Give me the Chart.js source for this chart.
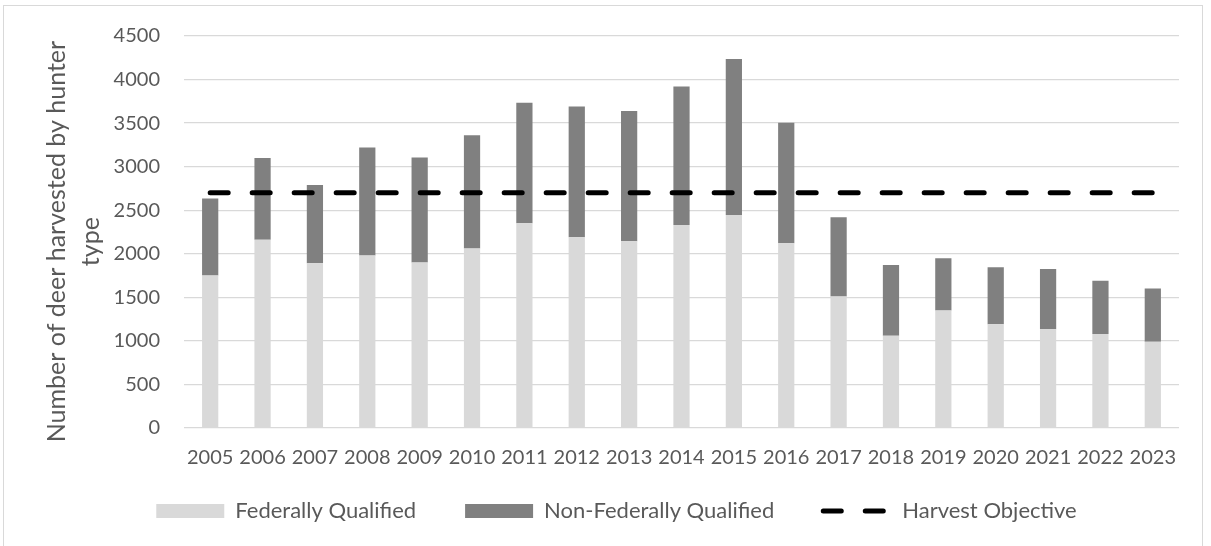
<!DOCTYPE html>
<html>
<head>
<meta charset="utf-8">
<script src="https://cdn.jsdelivr.net/npm/chart.js@4"></script>
<style>
  body { margin: 0; background: #fff; }
  #wrap { position: relative; width: 1211px; height: 546px; overflow: hidden; }
  #frame { position: absolute; left: 3px; top: 5px; width: 1198px; height: 560px; border: 1px solid #d9d9d9; pointer-events: none; }
  canvas { position: absolute; left: 0; top: 0; }
</style>
</head>
<body>
<div id="wrap">
  <canvas id="deerChart" width="1211" height="546"></canvas>
  <div id="frame"></div>
</div>
<script>
// Harvest by hunter type
const years = ['2005', '2006', '2007', '2008', '2009', '2010', '2011', '2012', '2013', '2014',
               '2015', '2016', '2017', '2018', '2019', '2020', '2021', '2022', '2023'];
const federallyQualified = [1750, 2160, 1890, 1980, 1900, 2060, 2350, 2190, 2145, 2330,
                            2445, 2120, 1510, 1060, 1350, 1190, 1135, 1080, 990];
const nonFederallyQualified = [885, 940, 900, 1240, 1205, 1300, 1385, 1500, 1495, 1590,
                               1790, 1385, 910, 810, 600, 655, 690, 610, 610];
const harvestObjective = [2700, 2700, 2700, 2700, 2700, 2700, 2700, 2700, 2700, 2700,
                          2700, 2700, 2700, 2700, 2700, 2700, 2700, 2700, 2700];
const yTicks = { min: 0, max: 4500, step: 500 };

const textColor = '#595959';
const gridColor = '#d9d9d9';
const fontFamily = 'Lato, "Open Sans", sans-serif';

// the legend sits lower than chart.js would put it, so move it after layout
// (legend clips to its own box, so the box has to reach the canvas bottom)
const legendPlace = {
  id: 'legendPlace',
  afterLayout(chart) {
    const lg = chart.legend;
    lg.top = 451;
    lg.bottom = chart.height;
    lg.height = lg.bottom - lg.top;
    lg.left += 27;
    lg.right += 27;
  }
};

const data = {
  labels: years,
  datasets: [
    {
      type: 'bar',
      label: 'Federally Qualified',
      data: federallyQualified,
      backgroundColor: '#d9d9d9',
      stack: 'harvest',
      order: 1,
      categoryPercentage: 0.31,
      barPercentage: 1
    },
    {
      type: 'bar',
      label: 'Non-Federally Qualified',
      data: nonFederallyQualified,
      backgroundColor: '#808080',
      stack: 'harvest',
      order: 1,
      categoryPercentage: 0.31,
      barPercentage: 1
    },
    {
      type: 'line',
      label: 'Harvest Objective',
      data: harvestObjective,
      borderColor: '#000000',
      backgroundColor: '#000000',
      borderWidth: 5,
      borderDash: [18, 24],
      borderCapStyle: 'round',
      pointRadius: 0,
      fill: false,
      stack: 'objective',
      order: 0
    }
  ]
};

const config = {
  data: data,
  plugins: [legendPlace],
  options: {
    responsive: false,
    animation: false,
    layout: { padding: { left: 0, right: 32, top: 23, bottom: 0 } },
    plugins: {
      tooltip: { enabled: false },
      legend: {
        position: 'bottom',
        maxHeight: 58,
        labels: {
          usePointStyle: true,
          pointStyleWidth: 68,
          boxHeight: 14,
          padding: 49,
          color: textColor,
          font: { family: fontFamily, size: 22 },
          generateLabels: (chart) => chart.data.datasets.map((ds, i) => ({
            text: ds.label,
            fillStyle: ds.backgroundColor,
            strokeStyle: ds.type === 'line' ? ds.borderColor : ds.backgroundColor,
            lineWidth: ds.type === 'line' ? 5 : 0,
            lineDash: ds.type === 'line' ? ds.borderDash : [],
            lineCap: ds.type === 'line' ? 'round' : 'butt',
            pointStyle: ds.type === 'line' ? 'line' : 'rect',
            fontColor: textColor,
            hidden: false,
            datasetIndex: i
          }))
        }
      }
    },
    scales: {
      x: {
        stacked: true,
        grid: { display: false, drawTicks: false },
        border: { display: false },
        ticks: {
          autoSkip: false,
          maxRotation: 0,
          padding: 18,
          color: textColor,
          font: { family: fontFamily, size: 20 }
        }
      },
      y: {
        stacked: true,
        min: yTicks.min,
        max: yTicks.max,
        grid: { color: gridColor, lineWidth: 1.3, drawTicks: false },
        border: { display: false },
        ticks: {
          stepSize: yTicks.step,
          padding: 24,
          color: textColor,
          font: { family: fontFamily, size: 20 },
          callback: (value) => String(value)
        },
        title: {
          display: true,
          text: ['Number of deer harvested by hunter   ', 'type   '],
          color: textColor,
          font: { family: fontFamily, size: 25, lineHeight: 1.36 },
          padding: { top: 40, bottom: 0 }
        },
        afterFit: (scale) => { scale.width = 184; }
      }
    }
  }
};

const deerChart = new Chart(document.getElementById('deerChart'), config);
</script>
</body>
</html>
